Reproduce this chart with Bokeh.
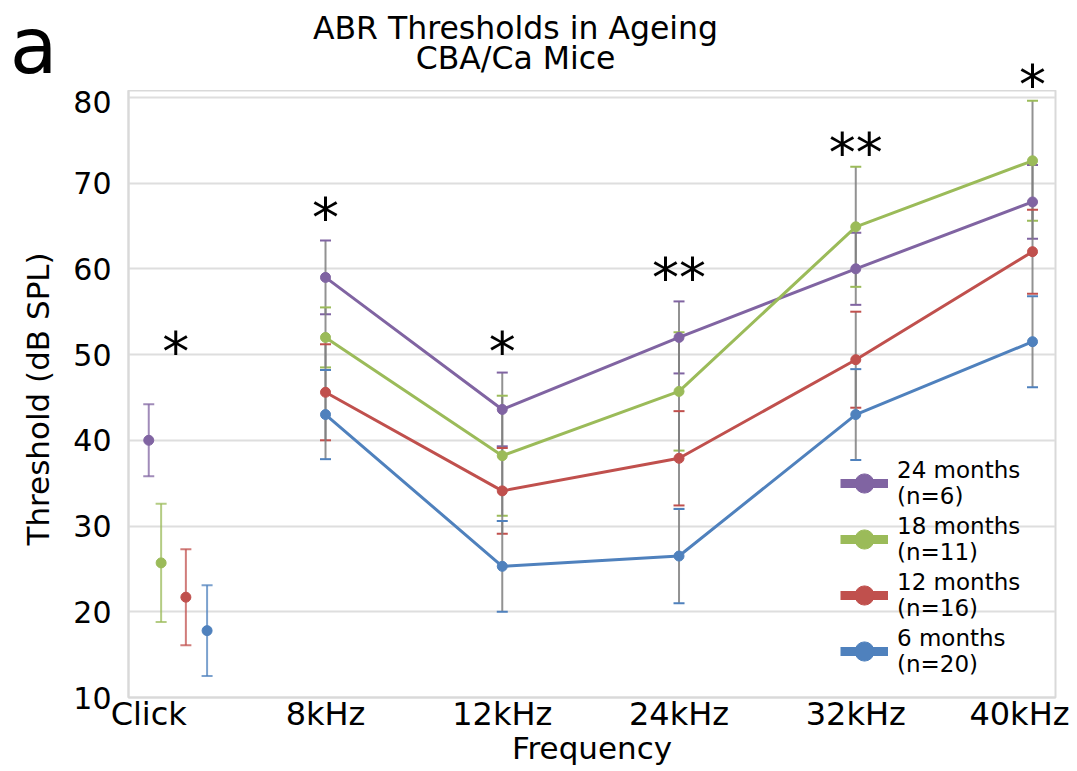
from bokeh.plotting import figure
from bokeh.layouts import column
from bokeh.models import (ColumnDataSource, Whisker, TeeHead, Label, Legend,
                          LegendItem, FixedTicker, Range1d)
from bokeh.embed import file_html
from bokeh.resources import INLINE

# ---------------- data ----------------
categories = ["Click", "8kHz", "12kHz", "24kHz", "32kHz", "40kHz"]

names = ["24 months\n(n=6)", "18 months\n(n=11)", "12 months\n(n=16)", "6 months\n(n=20)"]
colors = ["#8064A2", "#9BBB59", "#C0504D", "#4F81BD"]

m24 = [40.0, 59.0, 43.6, 52.0, 60.0, 67.8]
e24 = [4.2, 4.3, 4.3, 4.2, 4.2, 4.3]
m18 = [25.7, 52.0, 38.2, 45.7, 64.9, 72.6]
e18 = [6.9, 3.5, 7.0, 6.9, 7.0, 7.0]
m12 = [21.7, 45.6, 34.1, 37.9, 49.4, 62.0]
e12 = [5.6, 5.6, 5.0, 5.5, 5.6, 4.9]
m6 = [17.8, 43.0, 25.3, 26.5, 43.0, 51.5]
e6 = [5.3, 5.2, 5.3, 5.5, 5.3, 5.3]

sig_labels = ["*", "*", "*", "**", "**", "*"]
sig_y = [51.1, 66.8, 51.1, 59.8, 74.4, 82.3]   # centre height of the marks (dB)

means = [m24, m18, m12, m6]
errs = [e24, e18, e12, e6]

# ---------------- layout/style ----------------
FONT = "DejaVu Sans"
click_dodge = [0.0, 0.07, 0.21, 0.33]
xpos = list(range(len(categories)))

X0, X1 = -0.1146, 5.13
Y0, Y1 = 10, 80.8
FRAME_W, FRAME_H = 927, 607
LEFT, RIGHT, HEAD_H = 128, 14, 90
ppy = FRAME_H / (Y1 - Y0)

xr = Range1d(X0, X1)
p = figure(frame_width=FRAME_W, frame_height=FRAME_H,
           x_range=xr, y_range=Range1d(Y0, Y1),
           output_backend="svg", toolbar_location=None,
           min_border_left=LEFT, min_border_top=0, min_border_right=RIGHT,
           min_border_bottom=60)
p.background_fill_color = "white"
p.outline_line_color = "#d9d9d9"
p.outline_line_width = 2

p.xgrid.grid_line_color = None
p.ygrid.grid_line_color = "#dedede"
p.ygrid.grid_line_width = 2

p.yaxis.ticker = FixedTicker(ticks=[10, 20, 30, 40, 50, 60, 70, 80])
p.xaxis.ticker = FixedTicker(ticks=xpos)
p.xaxis.major_label_overrides = {i: c for i, c in enumerate(categories)}
for ax in (p.xaxis, p.yaxis):
    ax.axis_line_color = "#d9d9d9"
    ax.axis_line_width = 2
    ax.major_tick_line_color = None
    ax.minor_tick_line_color = None
    ax.major_label_text_font = FONT
    ax.major_label_text_color = "black"
    ax.axis_label_text_font = FONT
    ax.axis_label_text_font_style = "normal"
    ax.axis_label_text_color = "black"
    ax.axis_label_text_font_size = "31px"
p.xaxis.major_label_text_font_size = "32px"
p.yaxis.major_label_text_font_size = "30px"
p.xaxis.axis_label = "Frequency"
p.yaxis.axis_label = "Threshold (dB  SPL)"
p.xaxis.major_label_standoff = -9
p.xaxis.axis_label_standoff = -6
p.yaxis.major_label_standoff = 11
p.yaxis.axis_label_standoff = 14

# ---------------- marks ----------------
legend_items = []
for k in range(4):
    m, e, c = means[k], errs[k], colors[k]
    src = ColumnDataSource(dict(x=xpos[1:], y=m[1:],
                                lo=[a - b for a, b in zip(m[1:], e[1:])],
                                hi=[a + b for a, b in zip(m[1:], e[1:])]))
    p.add_layout(Whisker(source=src, base="x", lower="lo", upper="hi",
                         line_color="#7f7f7f", line_width=2, line_alpha=0.85,
                         upper_head=TeeHead(size=11, line_color=c, line_width=2),
                         lower_head=TeeHead(size=11, line_color=c, line_width=2)))
    csrc = ColumnDataSource(dict(x=[xpos[0] + click_dodge[k]], y=[m[0]],
                                 lo=[m[0] - e[0]], hi=[m[0] + e[0]]))
    p.add_layout(Whisker(source=csrc, base="x", lower="lo", upper="hi",
                         line_color=c, line_width=2, line_alpha=0.75,
                         upper_head=TeeHead(size=11, line_color=c, line_width=2, line_alpha=0.75),
                         lower_head=TeeHead(size=11, line_color=c, line_width=2, line_alpha=0.75)))

for k in range(4):
    m, c = means[k], colors[k]
    src = ColumnDataSource(dict(x=xpos[1:], y=m[1:]))
    p.line("x", "y", source=src, line_color=c, line_width=3)
    p.scatter("x", "y", source=src, size=10, fill_color=c, line_color=c)
    csrc = ColumnDataSource(dict(x=[xpos[0] + click_dodge[k]], y=[m[0]]))
    p.scatter("x", "y", source=csrc, size=10, fill_color=c, line_color=c)
    # legend-only glyphs (placed outside the visible range)
    lr = p.line(x=[-5, -4], y=[0, 0], line_color=c, line_width=9)
    sr = p.scatter(x=[-5], y=[0], size=22, fill_color=c, line_color=c)
    legend_items.append(LegendItem(label=names[k], renderers=[lr, sr]))

legend = Legend(items=legend_items, location=(712, 20),
                label_text_font=FONT, label_text_font_size="23px",
                label_text_color="black", label_text_line_height=0.95,
                glyph_width=48, glyph_height=50, label_standoff=9,
                spacing=4, padding=0, margin=0,
                border_line_color=None, background_fill_alpha=0)
p.add_layout(legend)

# ---------------- header strip (title, panel letter) ----------------
head = figure(frame_width=FRAME_W, frame_height=HEAD_H,
              x_range=xr, y_range=Range1d(Y1, Y1 + HEAD_H / ppy),
              output_backend="svg", toolbar_location=None,
              x_axis_type=None,
              min_border_left=LEFT, min_border_right=RIGHT, min_border_top=0,
              min_border_bottom=0)
head.outline_line_color = None
head.grid.grid_line_color = None

# panel letter "a" drawn as the (horizontal) label of the header's left axis
hy = head.yaxis[0]
hy.ticker = FixedTicker(ticks=[])
hy.axis_line_color = None
hy.major_tick_line_color = None
hy.minor_tick_line_color = None
hy.major_label_text_font_size = "0px"
hy.axis_label = "a"
hy.axis_label_orientation = "horizontal"
hy.axis_label_text_font = FONT
hy.axis_label_text_font_size = "78px"
hy.axis_label_text_font_style = "normal"
hy.axis_label_text_color = "black"
hy.axis_label_standoff = 71

head.add_layout(Label(x=515 - LEFT, y=HEAD_H - 27, x_units="screen", y_units="screen",
                      text="ABR Thresholds in Ageing", text_align="center",
                      text_baseline="middle", text_font=FONT, text_font_size="31.5px",
                      text_color="black"))
head.add_layout(Label(x=515 - LEFT, y=HEAD_H - 57, x_units="screen", y_units="screen",
                      text="CBA/Ca Mice", text_align="center",
                      text_baseline="middle", text_font=FONT, text_font_size="31.5px",
                      text_color="black"))

# significance marks (the last one rises above the plot frame into the header)
sig_x = [sum(click_dodge) / 4] + xpos[1:]
for sx, sy, st in zip(sig_x, sig_y, sig_labels):
    target = head if sy > Y1 else p
    target.add_layout(Label(x=sx, y=sy - 0.8, text=st, text_align="center",
                            text_baseline="alphabetic", text_font=FONT,
                            text_font_size="54px", text_color="black"))

layout = column(head, p, spacing=0)
open("out.html", "w").write(file_html(layout, INLINE))
